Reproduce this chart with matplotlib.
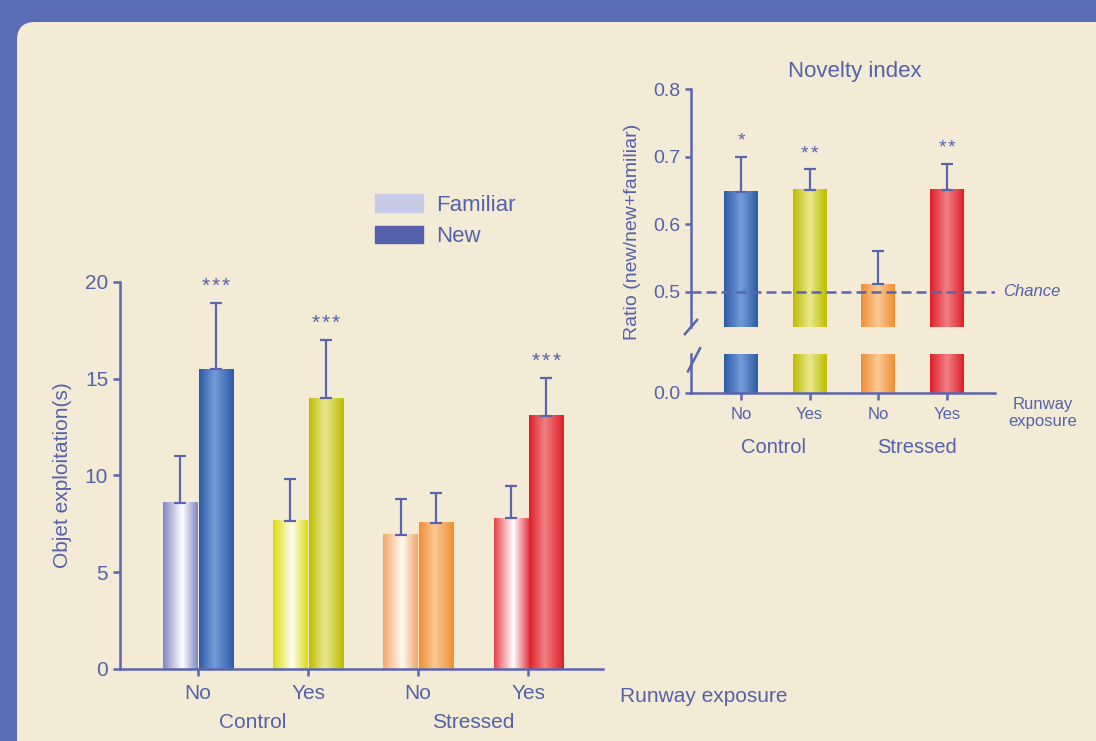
import numpy as np
import matplotlib
matplotlib.use('Agg')
import matplotlib.pyplot as plt
from matplotlib.colors import LinearSegmentedColormap
from matplotlib.patches import FancyBboxPatch, Patch
from matplotlib.transforms import IdentityTransform

plt.rcParams['font.family'] = ['Liberation Sans', 'DejaVu Sans']

# data
runway = ['No', 'Yes', 'No', 'Yes']
groups = ['Control', 'Stressed']
familiar = [8.6, 7.65, 6.95, 7.78]
familiar_err = [2.4, 2.15, 1.85, 1.7]
new = [15.5, 14.0, 7.57, 13.1]
new_err = [3.4, 3.0, 1.52, 1.95]
main_stars = [3, 3, 0, 3]

ratio = [0.648, 0.651, 0.511, 0.651]
ratio_err = [0.052, 0.030, 0.049, 0.038]
ratio_stars = [1, 2, 0, 2]
chance = 0.5

# colours
txt = '#5561aa'
axc = '#5a65b0'
fam_edge = ['#8088c4', '#dcdb10', '#f4a868', '#e6434c']
fam_mid = ['#ffffff', '#fffff2', '#fffaf2', '#ffffff']
new_edge = ['#2d5ba7', '#bdbd00', '#f08f35', '#e01f27']
new_mid = ['#749cd8', '#e8e890', '#f9c995', '#f08084']

W, H = 1096, 741
fig = plt.figure(figsize=(W / 100, H / 100), dpi=100, facecolor='#5a6cb4')
fig.patches.append(FancyBboxPatch((17, -30), 1100, 719 + 30,
                                  boxstyle='round,pad=0,rounding_size=18',
                                  transform=IdentityTransform(),
                                  facecolor='#f3ebd6', edgecolor='none', zorder=-5))


def shade(ax, bars, edges, mids, peak):
    for b, e, m in zip(bars, edges, mids):
        cmap = LinearSegmentedColormap.from_list('g', [(0, e), (peak, m), (1, e)])
        x0, y0 = b.get_xy()
        grad = np.linspace(0, 1, 80).reshape(1, -1)
        im = ax.imshow(grad, cmap=cmap, aspect='auto', interpolation='bilinear',
                       extent=[x0, x0 + b.get_width(), y0, y0 + b.get_height()], zorder=2)
        im.set_clip_path(b)
        im.set_clip_box(ax.bbox)


def stars(ax, xs, tops, counts, size, pitch):
    # one asterisk per text so the spacing can follow the picture
    for xv, t, n in zip(xs, tops, counts):
        for k in range(n):
            dx = (k - (n - 1) / 2) * pitch
            ax.annotate('*', (xv, t), xytext=(dx, 8), textcoords='offset points',
                        ha='center', va='baseline', fontsize=size, color=txt)


def style(ax):
    for s in ['top', 'right']:
        ax.spines[s].set_visible(False)
    for s in ['left', 'bottom']:
        ax.spines[s].set_color(axc)
        ax.spines[s].set_linewidth(1.8)
    ax.patch.set_alpha(0)
    ax.tick_params(color=axc, labelcolor=txt, width=1.8, length=5)


# ---- main chart
ax = fig.add_axes([120 / W, (H - 669) / H, (603 - 120) / W, (669 - 282) / H])
style(ax)
x = np.arange(len(runway))
off, bw = 0.16, 0.31
b1 = ax.bar(x - off, familiar, bw, color=fam_edge, zorder=1)
b2 = ax.bar(x + off, new, bw, color=new_edge, zorder=1)
shade(ax, b1, fam_edge, fam_mid, 0.55)
shade(ax, b2, new_edge, new_mid, 0.45)
z = np.zeros(len(x))
ax.errorbar(x - off, familiar, yerr=[z, familiar_err], fmt='none', ecolor=axc,
            elinewidth=1.6, capsize=4.5, capthick=1.6, zorder=3)
ax.errorbar(x + off, new, yerr=[z, new_err], fmt='none', ecolor=axc,
            elinewidth=1.6, capsize=4.5, capthick=1.6, zorder=3)
stars(ax, x + off, np.add(new, new_err), main_stars, 15, 7.5)
ax.set_xlim(-0.709, 3.68)
ax.set_ylim(0, 20)
ax.set_yticks([0, 5, 10, 15, 20])
ax.set_xticks(x)
ax.set_xticklabels(runway)
ax.tick_params(labelsize=15)
ax.tick_params(axis='x', pad=6)
ax.set_ylabel('Objet exploitation(s)', fontsize=15, color=txt)
ax.yaxis.set_label_coords(-0.10, 0.5)
for i, g in enumerate(groups):
    ax.text(2 * i + 0.5, (669 - 723) / 387, g, transform=ax.get_xaxis_transform(),
            ha='center', va='center', fontsize=15, color=txt)
fig.text(620 / W, 1 - 696 / H, 'Runway exposure', fontsize=15, color=txt, va='center')

fig.legend(handles=[Patch(color='#c8cbe8', label='Familiar'),
                    Patch(color='#5460ab', label='New')],
           loc='upper left', bbox_to_anchor=(375 / W, 1 - 194 / H), frameon=False,
           fontsize=16, labelcolor=txt, handlelength=2.16, handleheight=0.86,
           handletextpad=0.59, labelspacing=0.45, borderpad=0, borderaxespad=0)

# ---- inset: novelty index (broken y axis)
top_b, low_b = 327, 392.7
axT = fig.add_axes([691 / W, (H - top_b) / H, 304 / W, (top_b - 89) / H])
axB = fig.add_axes([691 / W, (H - low_b) / H, 304 / W, (low_b - 354) / H])
style(axT)
style(axB)
axT.spines['bottom'].set_visible(False)
axT.tick_params(axis='x', bottom=False, labelbottom=False)
xi = np.arange(len(ratio))
for a in (axT, axB):
    bars = a.bar(xi, ratio, 0.495, color=new_edge, zorder=1)
    shade(a, bars, new_edge, new_mid, 0.5)
    a.set_xlim(-0.728, 3.70)
axT.errorbar(xi, ratio, yerr=[np.zeros(4), ratio_err], fmt='none', ecolor=axc,
             elinewidth=1.6, capsize=4.5, capthick=1.6, zorder=3)
stars(axT, xi, np.add(ratio, ratio_err), ratio_stars, 14, 7)
axT.set_ylim(0.448, 0.8)
axB.set_ylim(0, 0.0572)
axT.set_yticks([0.5, 0.6, 0.7, 0.8])
axT.set_yticklabels(['0.5', '0.6', '0.7', '0.8'])
axB.set_yticks([0.0])
axB.set_yticklabels(['0.0'])
axT.tick_params(labelsize=14, length=4)
axB.tick_params(axis='y', labelsize=14, length=4)
axB.set_xticks(xi)
axB.set_xticklabels(runway)
axB.tick_params(axis='x', labelsize=12, pad=5)
axT.axhline(chance, color=axc, lw=1.8, ls=(0, (4, 2)), zorder=4)
axT.text(1.026, chance, 'Chance', transform=axT.get_yaxis_transform(), style='italic',
         fontsize=12, color=txt, va='center', ha='left')
axT.text(0.54, 1 + 17 / 238, 'Novelty index', transform=axT.transAxes,
         ha='center', va='center', fontsize=16, color=txt)
axT.set_ylabel('Ratio (new/new+familiar)', fontsize=14, color=txt)
axT.yaxis.set_label_coords(-0.163, 0.40)
# break marks
axT.plot([-0.02, 0.02], [-0.03, 0.03], transform=axT.transAxes, color=axc,
         lw=1.8, clip_on=False)
axB.plot([-0.01, 0.03], [0.55, 1.15], transform=axB.transAxes, color=axc,
         lw=1.8, clip_on=False)
for xg, g in zip([0.48, 2.57], groups):
    axB.text(xg, (low_b - 447) / (low_b - 354), g,
             transform=axB.get_xaxis_transform(), ha='center', va='center',
             fontsize=14.5, color=txt)
fig.text(1043 / W, 1 - 413 / H, 'Runway\nexposure', fontsize=12, color=txt,
         ha='center', va='center', linespacing=1.1)

fig.savefig('out.png', dpi=100, facecolor=fig.get_facecolor())
